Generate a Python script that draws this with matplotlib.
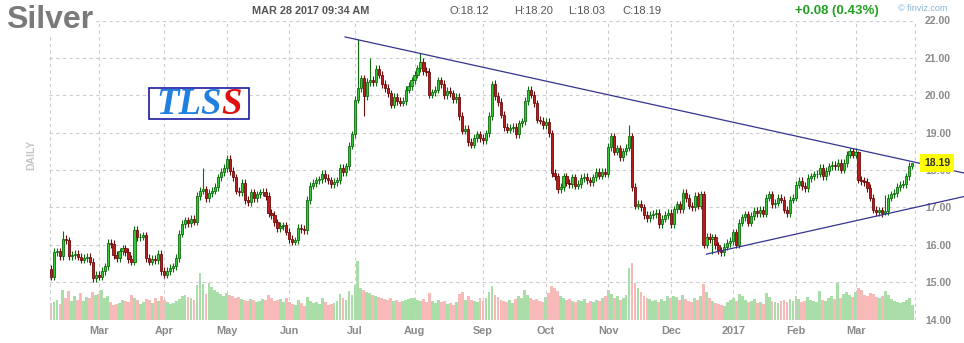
import numpy as np
import pandas as pd
import matplotlib
matplotlib.use("Agg")
import matplotlib.pyplot as plt
from matplotlib.patches import Rectangle
from matplotlib.transforms import blended_transform_factory

plt.rcParams['font.family'] = ['Liberation Sans', 'DejaVu Sans']

# ---------------- data (daily closes) ----------------
first_open = 15.35
close_feb16 = [15.15, 15.80, 15.82, 15.70, 16.15, 16.12, 15.70, 15.72, 15.75, 15.68, 15.60, 15.65, 15.68, 15.55, 15.10, 15.20]
close_mar16 = [15.15, 15.30, 15.42, 16.05, 16.02, 15.72, 15.65, 15.82, 15.90, 15.80, 15.62, 15.55, 16.40, 16.20, 16.22, 16.25, 15.65, 15.55, 15.62, 15.58, 15.75, 15.30]
close_apr16 = [15.20, 15.30, 15.38, 15.42, 15.65, 16.30, 16.55, 16.65, 16.58, 16.70, 16.62, 17.30, 17.45, 17.48, 17.25, 17.38, 17.45, 17.55, 17.80, 17.95, 18.05]
close_may16 = [18.30, 17.97, 17.80, 17.45, 17.40, 17.65, 17.20, 17.15, 17.40, 17.25, 17.35, 17.40, 17.42, 17.30, 16.85, 16.80, 16.60, 16.45, 16.50, 16.52, 16.35]
close_jun16 = [16.15, 16.08, 16.12, 16.45, 16.42, 16.40, 17.20, 17.58, 17.65, 17.72, 17.75, 17.90, 17.78, 17.72, 17.62, 17.68, 17.72, 18.05, 17.95, 18.10, 18.65, 18.95]
close_jul16 = [19.88, 20.20, 20.45, 19.98, 20.35, 20.42, 20.35, 20.70, 20.55, 20.30, 20.20, 20.05, 19.75, 19.95, 19.85, 19.80, 19.85, 20.15, 20.25, 20.40]
close_aug16 = [20.55, 20.72, 20.90, 20.65, 20.62, 20.02, 20.08, 20.15, 20.40, 20.30, 20.00, 20.12, 20.05, 19.90, 19.95, 19.45, 19.05, 19.10, 18.75, 18.68, 18.85, 18.95, 18.85]
close_sep16 = [18.80, 18.98, 19.45, 20.30, 19.98, 19.82, 19.48, 19.15, 19.08, 19.12, 19.15, 18.95, 19.25, 19.30, 19.85, 20.15, 20.02, 19.78, 19.35, 19.32, 19.20]
close_oct16 = [19.28, 18.98, 17.92, 17.83, 17.48, 17.55, 17.83, 17.66, 17.62, 17.80, 17.58, 17.62, 17.78, 17.82, 17.72, 17.68, 17.80, 17.95, 17.85, 17.95, 17.90]
close_nov16 = [18.62, 18.90, 18.49, 18.58, 18.35, 18.50, 18.60, 18.90, 17.55, 17.05, 17.10, 17.00, 16.80, 16.72, 16.80, 16.82, 16.85, 16.55, 16.70, 16.80, 16.85]
close_dec16 = [16.55, 16.95, 17.08, 16.95, 17.38, 17.25, 17.05, 17.00, 17.30, 17.05, 17.35, 16.00, 16.22, 16.15, 16.20, 15.98, 15.85, 15.80, 15.95, 16.05, 16.10]
close_jan17 = [16.33, 16.00, 16.59, 16.73, 16.81, 16.59, 16.77, 16.90, 16.85, 16.94, 16.83, 17.26, 17.35, 17.08, 17.13, 17.26, 17.21, 16.94, 16.85, 17.21, 17.26]
close_feb17 = [17.61, 17.70, 17.57, 17.52, 17.79, 17.83, 17.88, 17.90, 18.05, 17.83, 17.97, 18.10, 18.14, 18.10, 18.19, 18.01, 18.19, 18.41, 18.50, 18.41]
close_mar17 = [18.48, 17.74, 17.70, 17.68, 17.52, 17.26, 16.94, 16.88, 16.92, 16.84, 16.90, 17.26, 17.35, 17.39, 17.55, 17.61, 17.62, 17.83, 18.12, 18.19]

vol_feb16 = [51, 54, 60, 48, 90, 66, 87, 57, 72, 60, 81, 57, 69, 66, 84, 75]
vol_mar16 = [78, 90, 66, 72, 54, 45, 48, 51, 60, 57, 54, 75, 66, 60, 48, 54, 63, 60, 51, 66, 57, 72]
vol_apr16 = [60, 54, 48, 51, 57, 63, 72, 75, 69, 66, 60, 105, 141, 108, 78, 111, 99, 90, 84, 78, 72]
vol_may16 = [81, 75, 72, 66, 69, 63, 60, 57, 63, 60, 54, 57, 63, 60, 75, 66, 57, 60, 63, 54, 66]
vol_jun16 = [54, 48, 45, 60, 51, 42, 69, 57, 51, 54, 48, 66, 54, 45, 48, 51, 57, 78, 66, 60, 87, 75]
vol_jul16 = [105, 177, 96, 90, 84, 81, 75, 72, 69, 66, 63, 60, 66, 57, 60, 54, 57, 60, 63, 66]
vol_aug16 = [66, 60, 57, 63, 54, 81, 57, 51, 60, 54, 57, 48, 51, 45, 54, 78, 84, 60, 72, 60, 57, 54, 66]
vol_sep16 = [57, 66, 84, 102, 75, 69, 60, 57, 54, 60, 51, 63, 72, 66, 90, 75, 66, 60, 63, 57, 54]
vol_oct16 = [69, 81, 102, 96, 87, 72, 66, 60, 63, 57, 54, 60, 57, 63, 51, 57, 54, 60, 57, 66, 72]
vol_nov16 = [90, 78, 66, 72, 60, 66, 75, 156, 171, 111, 96, 84, 72, 66, 63, 57, 60, 54, 63, 57, 72]
vol_dec16 = [66, 72, 69, 60, 75, 63, 57, 54, 66, 60, 72, 108, 84, 66, 57, 51, 48, 45, 42, 54, 60]
vol_jan17 = [66, 57, 78, 72, 60, 54, 57, 63, 51, 54, 48, 81, 69, 57, 54, 51, 57, 60, 54, 63, 57]
vol_feb17 = [72, 63, 54, 57, 69, 60, 57, 54, 87, 60, 57, 66, 72, 63, 111, 66, 78, 84, 75, 69]
vol_mar17 = [84, 96, 90, 75, 72, 81, 78, 69, 66, 72, 87, 75, 63, 57, 54, 51, 54, 60, 66, 45]

typical_wick = 0.10
high_marks = {'2016-02-12': 16.37, '2016-04-20': 18.05, '2016-05-02': 18.40, '2016-07-05': 21.50,
              '2016-07-11': 21.00, '2016-08-03': 21.12, '2016-09-07': 20.38, '2016-11-10': 19.20,
              '2017-03-02': 18.52, '2017-03-15': 17.32, '2017-03-28': 18.20}
low_marks = {'2016-02-26': 15.00, '2016-07-07': 19.45, '2016-12-21': 15.75, '2017-03-15': 16.80,
             '2017-03-28': 18.03}

holidays = ['2016-03-25', '2016-05-30', '2016-07-04', '2016-09-05', '2016-11-24', '2016-12-26', '2017-01-02']

upper_trend = ([98.7, 306.4], [21.56, 17.92])
lower_trend = ([220.0, 306.4], [15.75, 17.29])

last_price = 18.19

# ---------------- assemble ----------------
closes = np.array(close_feb16 + close_mar16 + close_apr16 + close_may16 + close_jun16 + close_jul16 +
                  close_aug16 + close_sep16 + close_oct16 + close_nov16 + close_dec16 + close_jan17 +
                  close_feb17 + close_mar17)
volumes = np.array(vol_feb16 + vol_mar16 + vol_apr16 + vol_may16 + vol_jun16 + vol_jul16 + vol_aug16 +
                   vol_sep16 + vol_oct16 + vol_nov16 + vol_dec16 + vol_jan17 + vol_feb17 + vol_mar17)
dates = pd.bdate_range('2016-02-08', '2017-03-28')
dates = dates[~dates.isin(pd.to_datetime(holidays))]
n = len(dates)
opens = np.concatenate([[first_open], closes[:-1]])
body_top = np.maximum(opens, closes)
body_bot = np.minimum(opens, closes)
highs = body_top + typical_wick
lows = body_bot - typical_wick
for d, v in high_marks.items():
    highs[dates.get_loc(pd.Timestamp(d))] = v
for d, v in low_marks.items():
    lows[dates.get_loc(pd.Timestamp(d))] = v
x = np.arange(n)
up = closes >= opens

# ---------------- figure ----------------
W, H = 964, 343
fig = plt.figure(figsize=(W / 100, H / 100), dpi=100)
L, R, T, B = 49, 916, 20.5, 319.5
rect = [L / W, 1 - B / H, (R - L) / W, (B - T) / H]
axv = fig.add_axes(rect)
ax = fig.add_axes(rect)
ax.patch.set_alpha(0)
xmin, xmax = -0.67, 290.3
for a in (axv, ax):
    a.set_xlim(xmin, xmax)
    for s in a.spines.values():
        s.set_visible(False)

axv.set_ylim(0, 900)
axv.bar(x, volumes, width=0.95, color=np.where(up, '#a9dea9', '#f8b9b9'), linewidth=0)
axv.set_xticks([])
axv.set_yticks([])

grid_kw = dict(color='#cccccc', ls=(0, (3, 3)), lw=0.8)
ax.set_ylim(14, 22)
yt = np.arange(14, 23)
ax.set_yticks(yt)
ax.set_yticklabels([f'{v:.2f}' for v in yt])
month_idx = [i for i in range(1, n) if dates[i].month != dates[i - 1].month]
ax.set_xticks(month_idx)
ax.set_xticklabels(['2017' if dates[i].month == 1 else dates[i].strftime('%b') for i in month_idx])
ax.grid(True, zorder=0, **grid_kw)
ax.axvline(xmin + 0.2, zorder=0, **grid_kw)
ax.axvline(xmax - 0.2, zorder=0, **grid_kw)
ax.yaxis.tick_right()
ax.tick_params(axis='y', length=0, pad=6.5, labelsize=7.5, labelcolor='#8a8a8a')
ax.tick_params(axis='x', length=0, pad=4.5, labelsize=7.8, labelcolor='#8a8a8a')
for t in ax.get_xticklabels() + ax.get_yticklabels():
    t.set_fontweight('bold')

edge = np.where(up, '#0d6e0d', '#6e0c0c')
face = np.where(up, '#36c536', '#b81d1d')
ax.vlines(x, lows, highs, colors=edge, lw=0.8, zorder=3)
ax.bar(x, np.maximum(body_top - body_bot, 0.015), bottom=body_bot, width=0.72,
       color=face, edgecolor=edge, linewidth=0.6, zorder=4)

ax.plot(*upper_trend, color='#34348f', lw=0.9, zorder=5, clip_on=False)
ax.plot(*lower_trend, color='#34348f', lw=0.9, zorder=5, clip_on=False)

tr = blended_transform_factory(ax.transAxes, ax.transData)
ax.text((924 - L) / (R - L), last_price, f'{last_price:.2f}', transform=tr, ha='left', va='center',
        fontsize=7.5, fontweight='bold', color='#333333', zorder=10, clip_on=False,
        bbox=dict(boxstyle='square,pad=0.35', fc='#ffff00', ec='none'))


def px(xp, yp):
    return xp / W, 1 - yp / H


fig.text(*px(6, 28), 'Silver', fontsize=23, fontweight='bold', color='#7a7a7a', va='baseline', ha='left',
         bbox=dict(fc='white', ec='none', pad=1))
fig.text(*px(252, 14), 'MAR 28 2017 09:34 AM', fontsize=7.8, fontweight='bold', color='#555555', va='baseline')
for xp, s in [(450, 'O:18.12'), (514, 'H:18.20'), (568, 'L:18.03'), (622, 'C:18.19')]:
    fig.text(*px(xp, 14), s, fontsize=8, color='#555555', va='baseline')
fig.text(*px(795, 14), '+0.08 (0.43%)', fontsize=9.5, fontweight='bold', color='#23a023', va='baseline')
fig.text(*px(898, 11), '\u00a9 finviz.com', fontsize=6.5, color='#8ab4d8', va='baseline')
fig.text(*px(31, 155), 'DAILY', rotation=90, ha='center', va='center', fontsize=7.5,
         fontweight='bold', color='#c4c4c4')

fig.add_artist(Rectangle((149 / W, 1 - 119 / H), 100 / W, 31 / H, transform=fig.transFigure,
                         facecolor='white', edgecolor='#1a1aa0', lw=1.2, zorder=6))
logo_kw = dict(va='baseline', fontfamily='Liberation Serif', fontstyle='italic',
               fontweight='bold', fontsize=26.5, zorder=7)
fig.text(*px(222, 114), 'TLS', ha='right', color='#1f80e0', **logo_kw)
fig.text(*px(221, 114), 'S', ha='left', color='#e01010', **logo_kw)

fig.savefig('out.png', dpi=100)
